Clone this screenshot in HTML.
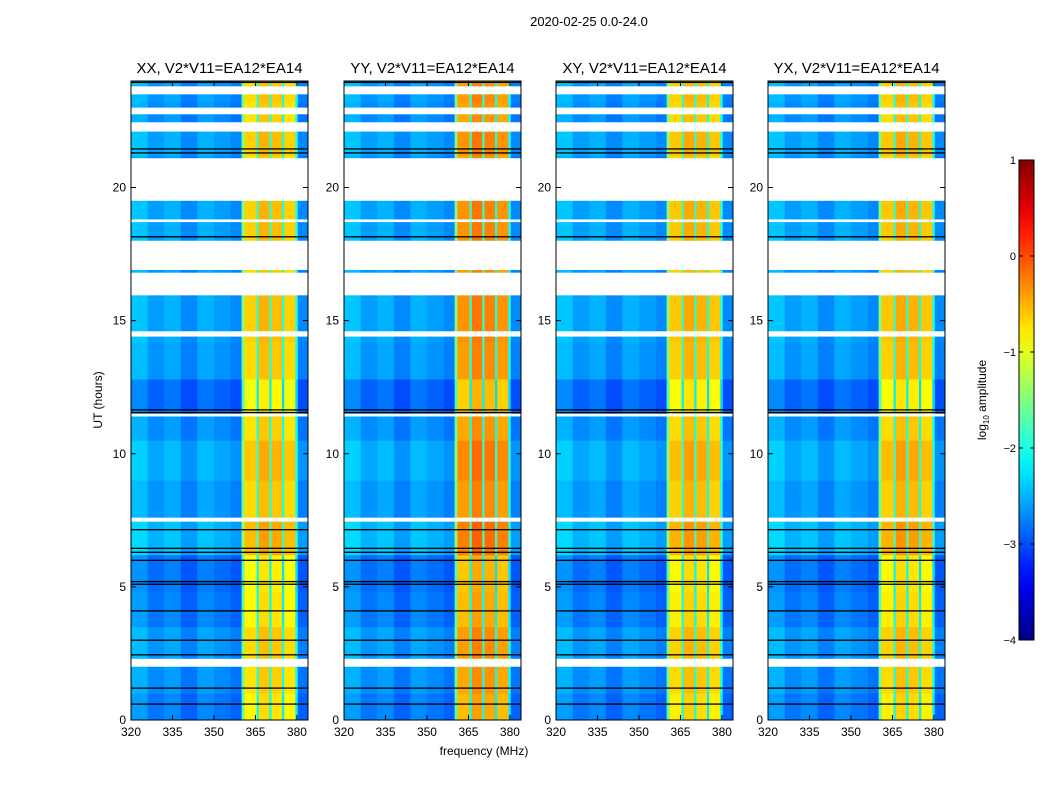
<!DOCTYPE html>
<html><head><meta charset="utf-8">
<style>
body{margin:0;background:#fff;font-family:"Liberation Sans",sans-serif;}
#root{position:relative;width:1050px;height:800px;overflow:hidden;}
</style></head>
<body>
<div id="root">
<svg id="svg" width="1050" height="800" style="position:absolute;left:0;top:0"></svg>
</div>
<script>
// ---- data ----
const panelTitles = ["XX, V2*V11=EA12*EA14","YY, V2*V11=EA12*EA14","XY, V2*V11=EA12*EA14","YX, V2*V11=EA12*EA14"];
const panelOffsets = [0, 0.3, 0.05, 0.05];
const freqStarts = [320,326,332,338,344,350,356,360,361,365.4,366.2,370,370.8,374.6,375.4,379.4,380.3,384];
const freqLevels = [-2.5,-2.7,-2.6,-2.8,-2.6,-2.7,-2.8,-1.6,-0.75,-2.0,-0.6,-2.0,-0.65,-2.1,-0.75,-2.1,-2.8];
const segStarts = [0,1,2.3,3.5,4.8,6.2,7.5,9.0,10.5,11.6,12.8,14.2,16.0,18.0,19.5,21.2,22.2,23.2];
const segLevels = [-0.1,0,0.05,-0.1,-0.15,0.2,0.05,0.15,0,-0.2,0.05,0.1,0.05,0.1,0.0,0.1,0.0,0.05];
const gaps = [[2.0,2.3],[7.45,7.6],[11.4,11.5],[14.4,14.6],[15.95,16.8],[16.9,18.0],[18.7,18.8],[19.5,21.1],[22.1,22.45],[22.75,23.0],[23.5,23.8]];
const blackLines = [0.6,1.2,2.45,3.0,4.1,5.1,5.2,6.0,6.3,6.45,7.15,11.55,11.65,17.3,17.85,18.15,21.3,21.45,23.95];
const yTicks = [0,5,10,15,20];
const xTicks = [320,335,350,365,380];
const cbTicks = [-4,-3,-2,-1,0,1];
// ---- layout ----
const panelX = [131,344,556,768], panelW = 177, plotTop = 81, plotBot = 720;
const f0 = 320, f1 = 384, h0 = 0, h1 = 24;
const NS = "http://www.w3.org/2000/svg";
const svg = document.getElementById('svg');
function el(tag, attrs, parent){const e=document.createElementNS(NS,tag);for(const k in attrs)e.setAttribute(k,attrs[k]);(parent||svg).appendChild(e);return e;}
function jet(v){let t=Math.max(0,Math.min(1,(v+4)/5));
 const r=Math.max(0,Math.min(1,1.5-Math.abs(4*t-3))),g=Math.max(0,Math.min(1,1.5-Math.abs(4*t-2))),b=Math.max(0,Math.min(1,1.5-Math.abs(4*t-1)));
 return `rgb(${Math.round(r*255)},${Math.round(g*255)},${Math.round(b*255)})`;}
function yOf(h){return plotBot-(h-h0)/(h1-h0)*(plotBot-plotTop);}

const t0=el('text',{x:589,y:26,'font-size':13,'text-anchor':'middle'});


t0.textContent='2020-02-25 0.0-24.0';

panelX.forEach((px,pi)=>{
 const xOf=f=>px+(f-f0)/(f1-f0)*panelW;
 const g=el('g',{});
 
 
 for(let s=0;s<segStarts.length;s++){
  const hs=segStarts[s], he=s+1<segStarts.length?segStarts[s+1]:24;
  for(let c=0;c<freqLevels.length;c++){
   const inBand=freqLevels[c]>-1.0;
   const r=el('rect',{x:xOf(freqStarts[c]),y:yOf(he),width:xOf(freqStarts[c+1])-xOf(freqStarts[c])+0.3,height:yOf(hs)-yOf(he)+0.3,fill:jet(freqLevels[c]+segLevels[s]+(inBand?panelOffsets[pi]:0))},g);
   
   
  }
 }
 blackLines.forEach(h=>{const l=el('rect',{x:px,y:yOf(h)-0.6,width:panelW,height:1.3,fill:'#000'},g);
  
  });
 gaps.forEach(gp=>{const r=el('rect',{x:px,y:yOf(gp[1]),width:panelW,height:yOf(gp[0])-yOf(gp[1]),fill:'#fff'},g);
  
  });
 const fr=el('rect',{x:px,y:plotTop,width:panelW,height:plotBot-plotTop,fill:'none',stroke:'#000','stroke-width':1},g);
 
 
 const tt=el('text',{x:px+panelW/2,y:73,'font-size':15,'text-anchor':'middle'});
 
 
 tt.textContent=panelTitles[pi];
 yTicks.forEach(v=>{const y=yOf(v);
  el('line',{x1:px,x2:px+5,y1:y,y2:y,stroke:'#000'},g);el('line',{x1:px+panelW-5,x2:px+panelW,y1:y,y2:y,stroke:'#000'},g);
  const t=el('text',{x:px-5,y:y+4,'font-size':12,'text-anchor':'end'});
  
  
  t.textContent=v;});
 xTicks.forEach(v=>{const x=xOf(v);
  el('line',{x1:x,x2:x,y1:plotBot,y2:plotBot-5,stroke:'#000'},g);el('line',{x1:x,x2:x,y1:plotTop,y2:plotTop+5,stroke:'#000'},g);
  const t=el('text',{x:x,y:736,'font-size':12,'text-anchor':'middle'});
  
  
  t.textContent=v;});
});
const yl=el('text',{x:0,y:0,'font-size':12,'text-anchor':'middle',transform:'translate(102,400) rotate(-90)'});


yl.textContent='UT (hours)';
const xl=el('text',{x:484,y:755,'font-size':12,'text-anchor':'middle'});


xl.textContent='frequency (MHz)';
// colorbar
const cbX=1019,cbW=15,cbT=160,cbB=640;
const defs=el('defs',{});const lg=el('linearGradient',{id:'jetg',x1:0,y1:1,x2:0,y2:0},defs);
for(let i=0;i<=20;i++){el('stop',{offset:i/20,'stop-color':jet(-4+5*i/20)},lg);}
const cb=el('rect',{x:cbX,y:cbT,width:cbW,height:cbB-cbT,fill:'url(#jetg)',stroke:'#000'});


cbTicks.forEach(v=>{const y=cbB-(v+4)/5*(cbB-cbT);
 el('line',{x1:cbX,x2:cbX+4,y1:y,y2:y,stroke:'#000'});el('line',{x1:cbX+cbW-4,x2:cbX+cbW,y1:y,y2:y,stroke:'#000'});
 const t=el('text',{x:cbX-3,y:y+4,'font-size':11,'text-anchor':'end'});
 
 
 t.textContent=v<0?'\u2212'+(-v):v;});
const cl=el('text',{x:0,y:0,'font-size':12,'text-anchor':'middle',transform:'translate(986,400) rotate(-90)'});


cl.innerHTML='log<tspan font-size="8" dy="3">10</tspan><tspan dy="-3"> amplitude</tspan>';
</script>
</body></html>
